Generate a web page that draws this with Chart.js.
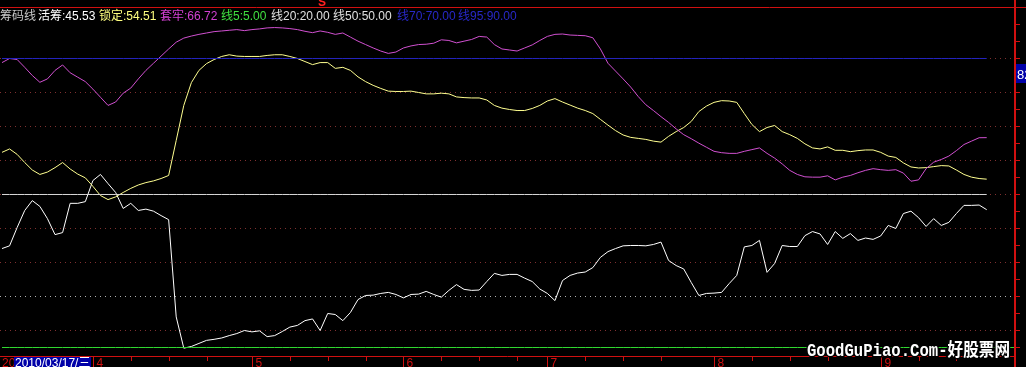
<!DOCTYPE html>
<html>
<head>
<meta charset="utf-8">
<script src="https://cdn.jsdelivr.net/npm/chart.js@4.4.1/dist/chart.umd.min.js"></script>
<style>
html, body { margin: 0; padding: 0; background: #000; overflow: hidden; }
</style>
</head>
<body>
<canvas id="myChart" width="1026" height="367"></canvas>
<script>
// trading days 2010-03-16 .. 2010-09-21 (weekends and holidays skipped)
var startDate = '2010-03-16';
var endDate = '2010-09-21';
var holidays = ['2010-04-05', '2010-05-03', '2010-06-14', '2010-06-15', '2010-06-16'];

// 活筹 (white)
var huoChou = [34.1, 34.9, 40.3, 45.3, 48.2, 46.5, 42.9, 38.2, 38.8, 47.4,
  47.4, 47.9, 54.1, 55.9, 53.2, 50.6, 45.9, 47.4, 45.3, 45.7,
  45.1, 43.8, 42.6, 14.0, 4.8, 5.3, 6.2, 7.1, 7.4, 7.8,
  8.5, 9.1, 10.0, 9.6, 9.9, 8.2, 8.5, 9.7, 11.0, 11.5,
  12.9, 13.4, 10.0, 15.0, 14.7, 12.9, 15.3, 19.1, 20.3, 20.4,
  20.9, 21.2, 20.6, 19.6, 20.6, 20.7, 21.5, 20.6, 19.8, 21.8,
  23.5, 22.1, 21.8, 21.9, 24.4, 26.8, 26.2, 26.5, 26.5, 25.4,
  24.4, 22.2, 20.9, 18.8, 24.7, 26.2, 26.9, 27.2, 28.5, 31.5,
  33.2, 34.1, 34.9, 35.0, 35.0, 34.9, 35.3, 36.0, 30.6, 29.1,
  28.1, 24.1, 20.3, 20.9, 21.0, 21.2, 23.8, 26.2, 34.6, 35.0,
  36.5, 27.1, 29.7, 35.0, 34.7, 34.7, 37.9, 39.1, 38.4, 35.3,
  39.1, 37.1, 38.5, 36.5, 37.2, 36.8, 37.8, 40.9, 40.0, 44.4,
  45.1, 43.2, 40.6, 42.9, 40.9, 41.8, 44.4, 46.8, 46.8, 46.9,
  45.53];

// 锁定 (yellow)
var suoDing = [62.4, 63.4, 61.8, 59.4, 57.2, 55.9, 56.6, 57.9, 59.4, 57.5,
  56.0, 54.9, 52.4, 49.7, 48.5, 49.3, 50.6, 51.8, 52.8, 53.5,
  54.0, 54.7, 55.6, 65.9, 76.2, 82.9, 86.5, 88.5, 89.7, 90.6,
  91.1, 90.7, 90.6, 90.6, 90.6, 90.9, 91.1, 91.1, 90.6, 90.0,
  89.1, 88.2, 88.8, 88.8, 87.1, 87.4, 86.5, 84.6, 83.2, 82.1,
  81.2, 80.4, 80.3, 80.3, 80.4, 80.0, 79.6, 79.6, 79.8, 79.6,
  78.7, 78.5, 78.4, 78.4, 77.8, 76.2, 75.4, 75.0, 74.7, 74.7,
  75.3, 76.2, 77.5, 78.2, 77.2, 76.3, 75.4, 74.7, 73.8, 72.1,
  70.4, 68.8, 67.5, 66.8, 66.5, 66.2, 65.7, 65.4, 67.1, 68.5,
  69.7, 71.5, 74.4, 76.0, 77.1, 77.6, 77.5, 77.1, 73.8, 70.6,
  68.5, 69.7, 70.3, 68.5, 67.6, 66.5, 64.9, 63.7, 63.4, 64.0,
  63.0, 63.0, 62.6, 62.9, 63.1, 63.1, 62.4, 61.3, 60.9, 59.3,
  58.1, 57.8, 57.9, 58.2, 58.5, 58.4, 57.2, 55.9, 55.1, 54.7,
  54.51];

// 套牢 (magenta)
var taoLao = [88.8, 90.0, 89.7, 87.4, 85.0, 83.0, 84.0, 86.5, 88.1, 85.8,
  84.5, 83.2, 81.0, 78.6, 76.2, 77.2, 79.8, 81.3, 84.0, 86.5,
  88.6, 90.7, 92.8, 94.8, 96.0, 96.6, 97.1, 97.5, 97.9, 98.1,
  98.3, 98.5, 98.2, 98.5, 98.7, 99.0, 99.1, 99.0, 98.8, 98.5,
  98.0, 97.6, 98.1, 97.7, 97.1, 97.5, 96.3, 95.1, 94.1, 93.1,
  92.2, 91.5, 91.9, 93.1, 93.7, 94.1, 94.2, 94.5, 95.5, 95.3,
  94.6, 95.1, 95.6, 96.5, 96.3, 94.1, 92.8, 92.5, 92.2, 93.1,
  94.0, 95.3, 96.5, 97.1, 97.2, 96.9, 96.8, 96.7, 96.1, 92.8,
  88.6, 86.3, 84.0, 81.6, 78.8, 76.4, 74.7, 72.9, 71.2, 69.3,
  67.6, 66.4, 65.1, 63.9, 62.7, 62.3, 62.1, 62.1, 62.7, 63.2,
  63.7, 62.1, 60.7, 59.0, 57.1, 55.9, 55.2, 55.1, 55.1, 55.5,
  54.3, 55.1, 55.6, 56.4, 57.1, 57.6, 57.3, 57.1, 57.3, 56.3,
  53.9, 54.3, 57.6, 59.5, 60.3, 61.3, 62.9, 64.7, 65.7, 66.7,
  66.72];

// legend values and fixed lines
var legendNames = ['活筹', '锁定', '套牢', '线5', '线20', '线50', '线70', '线95'];
var legendValues = [45.53, 54.51, 66.72, 5.00, 20.00, 50.00, 70.00, 90.00];
var legendColors = ['#ffffff', '#ffff80', '#d040d0', '#40e040', '#e0e0e0', '#e0e0e0', '#2828c8', '#2828c8'];
var legendX = [38, 99, 160, 221, 271, 333, 397, 458];
var gridValues = [10, 20, 30, 40, 50, 60, 70, 80, 90];
var rightTicks = [5, 10, 15, 20, 25, 30, 35, 40, 45, 50, 55, 60, 65, 70, 75, 80, 85, 90, 95, 100];
var cursorLabel = '2010/03/17/三';
var rightLabel = '82';
var yMin = 2.5, yMax = 105.147;

// build date labels
var labels = [];
var d = new Date(startDate + 'T00:00:00Z');
var end = new Date(endDate + 'T00:00:00Z');
while (d <= end) {
  var iso = d.toISOString().slice(0, 10);
  var wd = d.getUTCDay();
  if (wd != 0 && wd != 6 && holidays.indexOf(iso) < 0) labels.push(iso);
  d = new Date(d.getTime() + 86400000);
}
var nData = labels.length;
// a few empty slots on the right
for (var k = 0; k < 4; k++) labels.push('');

var line5 = labels.map(function () { return 5; });
var line50 = huoChou.map(function () { return 50; });
var line95 = huoChou.map(function () { return 90; });

var decorPlugin = {
  id: 'decor',
  beforeDraw: function (chart) {
    var c = chart.ctx;
    c.save();
    c.fillStyle = '#000';
    c.fillRect(0, 0, chart.width, chart.height);
    // dotted grid
    var y = chart.scales.y;
    gridValues.forEach(function (v) {
      var py = Math.floor(y.getPixelForValue(v)) + 0.5;
      c.strokeStyle = v == 20 ? '#b0b0b0' : '#803030';
      c.lineWidth = 1;
      c.setLineDash([1, 4]);
      c.beginPath();
      c.moveTo(0, py);
      c.lineTo(1014, py);
      c.stroke();
    });
    c.restore();
  },
  afterDraw: function (chart) {
    var c = chart.ctx;
    var x = chart.scales.x, y = chart.scales.y;
    c.save();
    c.setLineDash([]);
    var red = '#d01010';

    // frame
    c.strokeStyle = red;
    c.lineWidth = 1;
    c.beginPath();
    c.moveTo(0, 7.5); c.lineTo(1026, 7.5);
    c.moveTo(0, 356.5); c.lineTo(1015, 356.5);
    c.stroke();
    c.fillStyle = red;
    c.fillRect(1014, 0, 2, 367);

    // right axis ticks
    c.beginPath();
    rightTicks.forEach(function (v) {
      var py = Math.floor(y.getPixelForValue(v)) + 0.5;
      c.moveTo(1016, py); c.lineTo(1020, py);
    });
    c.stroke();

    // x axis: month boundaries and weekly ticks
    c.font = '12px "Liberation Sans", Arial, sans-serif';
    c.textBaseline = 'alphabetic';
    var monthStarts = [];
    for (var i = 1; i < nData; i++) {
      if (labels[i].slice(5, 7) != labels[i - 1].slice(5, 7)) monthStarts.push(i);
    }
    var bounds = [0].concat(monthStarts).concat([nData]);
    c.beginPath();
    for (var m = 0; m < bounds.length - 1; m++) {
      for (var j = bounds[m] + 5; j < bounds[m + 1] - 2; j += 5) {
        var px = Math.round(x.getPixelForValue(j)) + 0.5;
        c.moveTo(px, 357); c.lineTo(px, 361);
      }
    }
    c.stroke();
    monthStarts.forEach(function (i) {
      var px = Math.round(x.getPixelForValue(i)) + 0.5;
      c.beginPath();
      c.moveTo(px, 357); c.lineTo(px, 367);
      c.stroke();
      c.fillStyle = red;
      c.fillText(String(parseInt(labels[i].slice(5, 7), 10)), px + 3, 367);
    });
    c.fillStyle = red;
    c.fillText(labels[0].slice(0, 2), 2, 367);

    // cursor date box
    c.fillStyle = '#0000a8';
    c.fillRect(14, 357, 77, 10);
    c.fillStyle = '#ffffff';
    c.font = '12px "Liberation Sans", "Noto Sans CJK SC", sans-serif';
    c.fillText(cursorLabel, 15, 367);

    // right value box
    c.fillStyle = '#0000a8';
    c.fillRect(1016, 64, 10, 19);
    c.fillStyle = '#ffffff';
    c.font = '13px "Liberation Sans", sans-serif';
    c.fillText(rightLabel, 1017, 79);

    // legend line
    c.font = '12px "Liberation Sans", "Noto Sans CJK SC", sans-serif';
    c.textBaseline = 'alphabetic';
    c.fillStyle = '#c8c8c8';
    c.fillText('筹码线', 0, 20);
    for (var n = 0; n < legendNames.length; n++) {
      c.fillStyle = legendColors[n];
      c.fillText(legendNames[n] + ':' + legendValues[n].toFixed(2), legendX[n], 20);
    }

    // S marker
    c.fillStyle = '#ff2020';
    c.font = 'bold 12px "Liberation Sans", sans-serif';
    c.fillText('S', 318, 6);

    // watermark
    c.font = 'bold 18px "Liberation Mono", "Noto Sans CJK SC", monospace';
    var wm = 'GoodGuPiao.Com-好股票网';
    var ww = c.measureText(wm).width;
    c.translate(807, 356);
    c.scale(203 / ww, 1);
    c.lineWidth = 3;
    c.strokeStyle = '#000';
    c.strokeText(wm, 0, 0);
    c.fillStyle = '#ffffff';
    c.fillText(wm, 0, 0);
    c.restore();
  }
};

var ctx = document.getElementById('myChart').getContext('2d');
var chart = new Chart(ctx, {
  type: 'line',
  data: {
    labels: labels,
    datasets: [
      { label: '线5', data: line5, borderColor: '#30d830' },
      { label: '线50', data: line50, borderColor: '#d8d8d8' },
      { label: '线95', data: line95, borderColor: '#2424c0' },
      { label: '套牢', data: taoLao, borderColor: '#d050d0' },
      { label: '锁定', data: suoDing, borderColor: '#ffff90' },
      { label: '活筹', data: huoChou, borderColor: '#ffffff' }
    ]
  },
  options: {
    responsive: false,
    animation: false,
    devicePixelRatio: 1,
    layout: { padding: { left: 2, right: 9, top: 7, bottom: 11 } },
    elements: {
      line: { borderWidth: 1, tension: 0 },
      point: { radius: 0 }
    },
    plugins: { legend: { display: false }, tooltip: { enabled: false } },
    scales: {
      x: { display: false, offset: false },
      y: { display: false, min: yMin, max: yMax }
    }
  },
  plugins: [decorPlugin]
});
</script>
</body>
</html>
